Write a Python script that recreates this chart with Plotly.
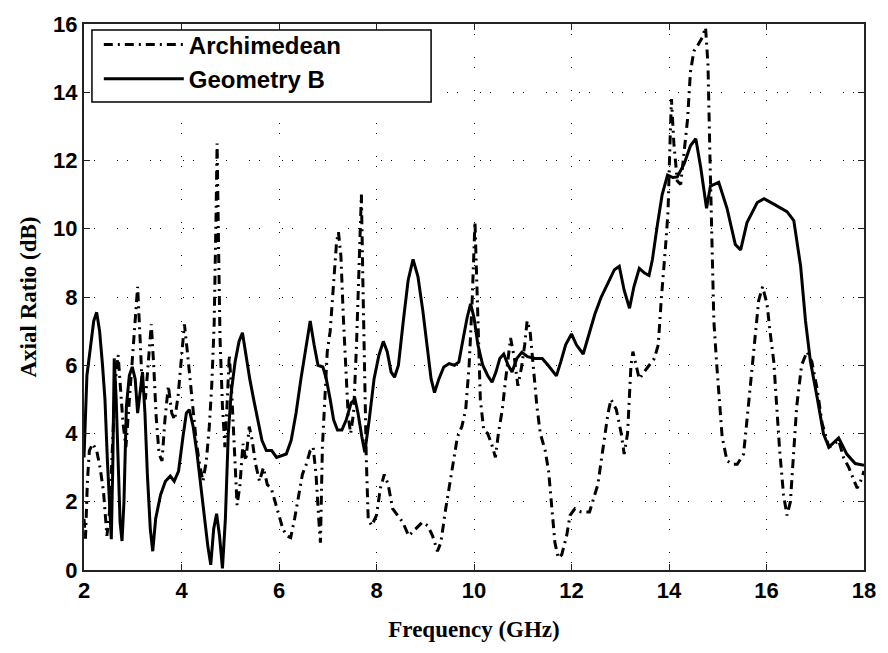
import plotly.graph_objects as go

# Archimedean (dash-dot)
arch_f = [2.00, 2.03, 2.07, 2.11, 2.18, 2.26, 2.33, 2.40, 2.47, 2.53, 2.58, 2.64, 2.70, 2.75, 2.80, 2.86, 2.92, 2.98,
          3.05, 3.10, 3.15, 3.20, 3.26, 3.32, 3.38, 3.43, 3.48, 3.54, 3.60, 3.66, 3.73, 3.80, 3.86, 3.93, 4.00, 4.06,
          4.12, 4.18, 4.24, 4.30, 4.37, 4.44, 4.51, 4.57, 4.62, 4.67, 4.71, 4.73, 4.76, 4.79, 4.84, 4.89, 4.94, 4.98,
          5.03, 5.08, 5.14, 5.20, 5.26, 5.32, 5.39, 5.45, 5.52, 5.60, 5.68, 5.76, 5.84, 5.92, 6.00, 6.08, 6.16, 6.24,
          6.32, 6.40, 6.48, 6.56, 6.64, 6.70, 6.76, 6.81, 6.85, 6.89, 6.94, 6.99, 7.05, 7.12, 7.18, 7.22, 7.27, 7.32,
          7.37, 7.42, 7.47, 7.53, 7.59, 7.64, 7.69, 7.72, 7.75, 7.79, 7.83, 7.90, 8.00, 8.08, 8.16, 8.24, 8.33, 8.43,
          8.54, 8.66, 8.80, 8.94, 9.05, 9.15, 9.25, 9.32, 9.42, 9.52, 9.59, 9.66, 9.75, 9.83, 9.90, 9.96, 10.02, 10.06,
          10.10, 10.13, 10.20, 10.28, 10.36, 10.44, 10.50, 10.58, 10.65, 10.75, 10.83, 10.90, 10.97, 11.04, 11.09,
          11.15, 11.22, 11.29, 11.36, 11.46, 11.53, 11.59, 11.66, 11.73, 11.80, 11.90, 11.97, 12.07, 12.20, 12.37,
          12.54, 12.64, 12.75, 12.81, 12.92, 13.02, 13.08, 13.15, 13.19, 13.22, 13.26, 13.39, 13.49, 13.60, 13.70,
          13.78, 13.84, 13.93, 13.98, 14.02, 14.05, 14.10, 14.17, 14.24, 14.31, 14.38, 14.44, 14.51, 14.60, 14.68,
          14.75, 14.80, 14.84, 14.88, 14.92, 14.97, 15.02, 15.09, 15.19, 15.30, 15.40, 15.53, 15.60, 15.71, 15.77,
          15.84, 15.92, 16.01, 16.08, 16.15, 16.20, 16.27, 16.35, 16.42, 16.49, 16.56, 16.62, 16.72, 16.83, 16.93,
          17.04, 17.14, 17.28, 17.40, 17.48, 17.58, 17.69, 17.80, 17.86, 17.93, 18.00]
arch_ar = [1.5, 0.9, 2.6, 3.5, 3.7, 3.5, 3.0, 2.3, 1.0, 1.8, 3.5, 5.5, 6.3, 5.2, 4.3, 3.6, 4.8, 6.2,
           7.5, 8.3, 6.8, 5.2, 5.0, 6.2, 7.2, 6.0, 4.5, 3.4, 3.2, 4.4, 5.4, 4.6, 4.4, 5.1, 6.3, 7.2,
           6.4, 5.5, 4.6, 3.8, 3.1, 2.6, 3.2, 4.2, 5.4, 7.2, 10.5, 12.5, 9.5, 6.8, 4.8, 3.6, 5.0, 6.3,
           5.2, 3.6, 1.9, 2.5, 3.7, 3.2, 4.2, 3.8, 3.1, 2.6, 3.0, 2.5, 2.4, 2.0, 1.6, 1.2, 1.0, 0.95,
           1.5, 2.2, 2.8, 3.1, 3.5, 3.6, 2.8, 1.6, 0.8, 3.6, 5.2, 6.4, 7.0, 8.3, 9.6, 9.9, 9.2, 7.4,
           5.8, 4.5, 4.0, 4.6, 6.6, 8.8, 11.0, 8.5, 6.0, 3.3, 1.5, 1.3, 1.6, 2.4, 2.8, 2.5, 1.8, 1.6,
           1.4, 1.0, 1.2, 1.4, 1.3, 1.0, 0.55, 0.8, 1.8, 2.7, 3.3, 3.9, 4.2, 4.7, 6.0, 7.8, 10.2, 8.5,
           6.8, 5.0, 4.1, 4.0, 3.7, 3.3, 4.0, 4.7, 5.6, 6.8, 6.2, 5.4, 5.9, 6.6, 7.3,
           7.0, 5.9, 4.8, 4.0, 3.5, 2.9, 1.9, 0.8, 0.35, 0.45, 1.0, 1.6, 1.8, 1.7, 1.7,
           2.5, 3.5, 4.6, 5.0, 4.7, 4.0, 3.4, 4.0, 5.0, 6.0, 6.4, 5.6, 5.8, 6.0, 6.2,
           6.6, 7.9, 9.5, 10.5, 12.5, 13.8, 12.5, 11.4, 11.3, 12.2, 13.2, 14.6, 15.2, 15.4, 15.6,
           15.9, 14.8, 12.1, 9.4, 7.3, 6.2, 5.1, 3.9, 3.2, 3.1, 3.1, 3.4, 4.4, 6.1, 7.0,
           7.9, 8.3, 7.8, 6.9, 6.1, 5.0, 3.5, 2.2, 1.6, 2.0, 3.5, 4.8, 6.0, 6.4, 6.1,
           5.3, 4.3, 3.6, 3.7, 3.8, 3.3, 3.0, 2.6, 2.4, 2.6, 2.9]

# Geometry B (solid)
geob_f = [2.00, 2.06, 2.13, 2.20, 2.26, 2.32, 2.38, 2.43, 2.48, 2.53, 2.56, 2.59, 2.62, 2.66, 2.70, 2.74, 2.78, 2.82,
          2.87, 2.93, 2.99, 3.05, 3.10, 3.15, 3.20, 3.25, 3.30, 3.36, 3.41, 3.47, 3.57, 3.67, 3.77, 3.85, 3.94, 4.03,
          4.10, 4.16, 4.24, 4.32, 4.40, 4.47, 4.54, 4.60, 4.66, 4.72, 4.78, 4.84, 4.90, 4.96, 5.02, 5.10, 5.18, 5.25,
          5.32, 5.40, 5.48, 5.56, 5.65, 5.74, 5.85, 5.95, 6.05, 6.15, 6.25, 6.35, 6.45, 6.55, 6.64, 6.72, 6.80, 6.90,
          6.97, 7.05, 7.12, 7.20, 7.29, 7.38, 7.48, 7.56, 7.62, 7.70, 7.76, 7.85, 7.95, 8.05, 8.14, 8.22, 8.30, 8.37,
          8.45, 8.55, 8.65, 8.75, 8.85, 8.95, 9.05, 9.12, 9.19, 9.28, 9.38, 9.49, 9.60, 9.69, 9.78, 9.86, 9.93, 10.00,
          10.08, 10.18, 10.28, 10.37, 10.45, 10.53, 10.61, 10.70, 10.78, 10.88, 10.98, 11.10, 11.25, 11.40, 11.52,
          11.62, 11.69, 11.78, 11.88, 12.00, 12.10, 12.24, 12.35, 12.48, 12.61, 12.75, 12.88, 12.98, 13.08, 13.19,
          13.28, 13.39, 13.50, 13.59, 13.66, 13.76, 13.86, 13.97, 14.08, 14.17, 14.31, 14.44, 14.55, 14.65, 14.77,
          14.85, 15.02, 15.19, 15.36, 15.47, 15.60, 15.81, 15.95, 16.15, 16.42, 16.56, 16.70, 16.80, 16.90, 17.04,
          17.17, 17.28, 17.48, 17.65, 17.82, 18.00]
geob_ar = [3.3, 5.7, 6.5, 7.3, 7.55, 7.0, 6.0, 5.0, 3.2, 1.5, 0.9, 3.0, 6.2, 5.0, 3.0, 1.4, 0.85, 2.0,
           4.8, 5.7, 5.95, 5.6, 4.6, 5.2, 5.8, 4.6, 2.8, 1.2, 0.55, 1.5, 2.2, 2.6, 2.75, 2.6, 2.9, 3.9,
           4.6, 4.7, 4.2, 3.4, 2.4, 1.5, 0.7, 0.15, 1.2, 1.65, 1.0, 0.05, 1.5, 4.0, 5.2, 6.1, 6.7, 6.95,
           6.3, 5.6, 5.0, 4.4, 3.8, 3.5, 3.5, 3.3, 3.35, 3.4, 3.8, 4.6, 5.6, 6.5, 7.3, 6.6, 6.0, 5.95,
           5.6, 5.0, 4.4, 4.1, 4.1, 4.4, 4.9, 5.0, 4.6, 3.9, 3.45, 4.4, 5.6, 6.3, 6.7, 6.4, 5.8, 5.65,
           6.0, 7.3, 8.5, 9.1, 8.6, 7.6, 6.5, 5.6, 5.2, 5.6, 5.95, 6.05, 6.0, 6.1, 6.8, 7.4, 7.8, 7.4,
           6.6, 6.0, 5.7, 5.5, 5.8, 6.2, 6.33, 6.0, 5.8, 6.2, 6.38, 6.25, 6.2, 6.2, 6.0,
           5.8, 5.69, 6.1, 6.6, 6.92, 6.6, 6.33, 6.9, 7.5, 8.0, 8.4, 8.8, 8.9, 8.2, 7.67,
           8.3, 8.84, 8.7, 8.63, 9.1, 10.1, 11.0, 11.57, 11.5, 11.52, 11.9, 12.43, 12.64, 11.8, 10.6,
           11.25, 11.36, 10.6, 9.54, 9.38, 10.18, 10.77, 10.88, 10.72, 10.5, 10.24, 8.9, 7.3, 6.12, 5.05,
           3.98, 3.6, 3.87, 3.39, 3.12, 3.07]

x_ticks = [2, 4, 6, 8, 10, 12, 14, 16, 18]
y_ticks = [0, 2, 4, 6, 8, 10, 12, 14, 16]

fig = go.Figure()
fig.add_trace(go.Scatter(x=arch_f, y=arch_ar, mode="lines", name="Archimedean",
                         line=dict(color="black", width=3, dash="9px,5px,2px,5px")))
fig.add_trace(go.Scatter(x=geob_f, y=geob_ar, mode="lines", name="Geometry B",
                         line=dict(color="black", width=3)))

grid_dash = "1px,9px,1px,22px"
axis_common = dict(showline=True, linecolor="#222", linewidth=2, mirror="ticks",
                   ticks="inside", ticklen=6, tickcolor="#222", tickwidth=1,
                   showgrid=True, gridcolor="black", gridwidth=1, griddash=grid_dash,
                   zeroline=False,
                   tickfont=dict(family="Liberation Sans, Arial", size=22, color="black", weight="bold"))

title_font = dict(family="Liberation Serif, Times New Roman", size=23, color="black", weight="bold")

fig.update_xaxes(range=[2, 18], tickvals=x_ticks, ticktext=[str(v) for v in x_ticks],
                 title=dict(text="Frequency (GHz)", standoff=18, font=title_font),
                 **axis_common)
fig.update_yaxes(range=[0, 16], tickvals=y_ticks, ticktext=[str(v) for v in y_ticks],
                 title=dict(text="Axial Ratio (dB)", standoff=10, font=title_font),
                 **axis_common)

# legend frame (white box with black border, as in the MATLAB legend)
fig.add_shape(type="rect", xref="paper", yref="paper",
              x0=0.0102, x1=0.445, y0=0.857, y1=0.989,
              fillcolor="white", line=dict(color="black", width=1.5), layer="above")

fig.update_layout(
    width=888, height=653,
    margin=dict(l=84, r=20, t=18, b=83),
    paper_bgcolor="white", plot_bgcolor="white",
    showlegend=True,
    legend=dict(x=0.019, y=1.003, xanchor="left", yanchor="top",
                bgcolor="rgba(0,0,0,0)", borderwidth=0,
                font=dict(family="Liberation Sans, Arial", size=24, color="black", weight="bold"),
                itemwidth=80, tracegroupgap=0),
)

fig.write_html("out.html")
